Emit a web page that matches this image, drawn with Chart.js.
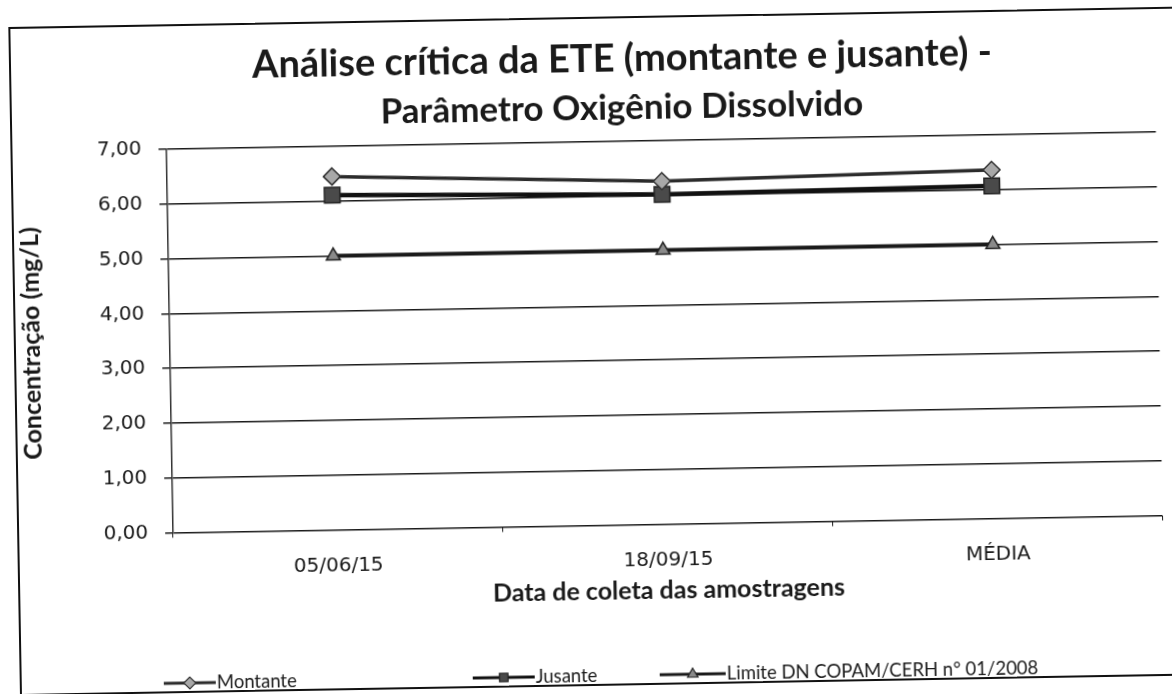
<!DOCTYPE html>
<html>
<head>
<meta charset="utf-8">
<script src="https://cdn.jsdelivr.net/npm/chart.js@4/dist/chart.umd.min.js"></script>
<style>
  html, body { margin: 0; padding: 0; background: #fff; }
  #wrap {
    position: absolute; left: 0; top: 0; width: 1172px; height: 694px;
    transform: rotate(-1deg); transform-origin: 586px 347px;
  }
  #frame {
    position: absolute; left: 14px; top: 17px; width: 1200px; height: 665px;
    border: 2px solid #111;
  }
  canvas { position: absolute; left: 0; top: 0; }
</style>
</head>
<body>
<div id="wrap">
  <div id="frame"></div>
  <canvas id="odChart" width="1172" height="694"></canvas>
</div>
<script>
const datas = ["05/06/15", "18/09/15", "MÉDIA"];
const montante = [6.45, 6.26, 6.36];
const jusante = [6.11, 6.02, 6.07];
const limite = [5.00, 5.00, 5.00];
const yTicks = [0, 1, 2, 3, 4, 5, 6, 7];
const titulo = ["Análise crítica da ETE (montante e jusante) -", "Parâmetro Oxigênio Dissolvido"];

const fonteTitulo = "Lato, 'Open Sans', sans-serif";
const fonteEixo = "'DejaVu Sans', Verdana, sans-serif";
const tinta = "#1a1a1a";

// o gráfico original é mais largo que a página: título centrado mais à direita
const tituloExcel = {
    id: "tituloExcel",
    afterDraw(chart) {
        const ctx = chart.ctx;
        ctx.save();
        ctx.fillStyle = tinta;
        ctx.textAlign = "center";
        ctx.textBaseline = "middle";
        ctx.font = "bold 38px " + fonteTitulo;
        ctx.fillText(titulo[0], 627, 60);
        ctx.font = "bold 35px " + fonteTitulo;
        ctx.fillText(titulo[1], 626, 109);
        ctx.restore();
    }
};

// legenda desenhada à mão: linha + marcador + texto, como no Excel
const legendaItens = [
    { x: 184, half: 26 },
    { x: 498, half: 31 },
    { x: 687, half: 33 }
];
const legendaY = 676;

const legendaExcel = {
    id: "legendaExcel",
    afterDraw(chart) {
        const ctx = chart.ctx;
        chart.data.datasets.forEach((ds, i) => {
            const it = legendaItens[i];
            ctx.save();
            ctx.strokeStyle = ds.borderColor;
            ctx.lineWidth = 3;
            ctx.beginPath();
            ctx.moveTo(it.x - it.half, legendaY);
            ctx.lineTo(it.x + it.half, legendaY);
            ctx.stroke();
            ctx.fillStyle = ds.backgroundColor;
            ctx.strokeStyle = ds.pointBorderColor;
            ctx.lineWidth = 1.2;
            Chart.helpers.drawPoint(ctx, { pointStyle: ds.pointStyle, radius: 6, borderWidth: 1.2 }, it.x, legendaY);
            ctx.fillStyle = tinta;
            ctx.font = "18.5px " + fonteTitulo;
            ctx.textBaseline = "middle";
            ctx.fillText(ds.label, it.x + it.half + 1, legendaY);
            ctx.restore();
        });
    }
};

const ctx = document.getElementById("odChart").getContext("2d");
new Chart(ctx, {
    type: "line",
    data: {
        labels: datas,
        datasets: [
            {
                label: "Montante",
                data: montante,
                borderColor: "#2b2b2b",
                backgroundColor: "#a8a8a8",
                pointBorderColor: "#333",
                borderWidth: 3.5,
                pointStyle: "rectRot",
                pointRadius: 8.5,
                pointBorderWidth: 1.5
            },
            {
                label: "Jusante",
                data: jusante,
                borderColor: "#111",
                backgroundColor: "#4a4a4a",
                pointBorderColor: "#222",
                borderWidth: 4.5,
                pointStyle: "rect",
                pointRadius: 11,
                pointBorderWidth: 1.5
            },
            {
                label: "Limite DN COPAM/CERH n° 01/2008",
                data: limite,
                borderColor: "#1a1a1a",
                backgroundColor: "#8a8a8a",
                pointBorderColor: "#222",
                borderWidth: 4,
                pointStyle: "triangle",
                pointRadius: 8,
                pointBorderWidth: 1.5
            }
        ]
    },
    options: {
        responsive: false,
        animation: false,
        layout: { padding: { left: 10, right: 10, top: 142, bottom: 69 } },
        plugins: {
            title: { display: false },
            legend: { display: false },
            tooltip: { enabled: false }
        },
        scales: {
            x: {
                offset: true,
                afterFit(axis) { axis.height = 99.5; },
                grid: { drawOnChartArea: false, drawTicks: true, tickLength: 5, offset: true, color: tinta },
                border: { display: false },
                ticks: { color: tinta, font: { family: fonteEixo, size: 20 }, padding: 19, maxRotation: 0 },
                title: {
                    display: true,
                    text: "Data de coleta das amostragens",
                    color: tinta,
                    font: { family: fonteTitulo, size: 25, weight: "bold" },
                    padding: { top: 0, bottom: 18 }
                }
            },
            y: {
                min: yTicks[0],
                max: yTicks[yTicks.length - 1],
                afterBuildTicks(axis) {
                    axis.ticks = yTicks.map(v => ({ value: v }));
                },
                afterFit(axis) { axis.width = 160; },
                grid: { color: tinta, lineWidth: 1.5, drawTicks: true, tickLength: 8 },
                border: { display: true, color: "#333", width: 1.5 },
                ticks: {
                    color: tinta,
                    font: { family: fonteEixo, size: 20 },
                    padding: 17,
                    callback: v => v.toFixed(2).replace(".", ",")
                },
                title: {
                    display: true,
                    text: "Concentração (mg/L)",
                    color: tinta,
                    font: { family: fonteTitulo, size: 25, weight: "bold" },
                    padding: { top: 7, bottom: 0 }
                }
            }
        }
    },
    plugins: [tituloExcel, legendaExcel]
});
</script>
</body>
</html>
